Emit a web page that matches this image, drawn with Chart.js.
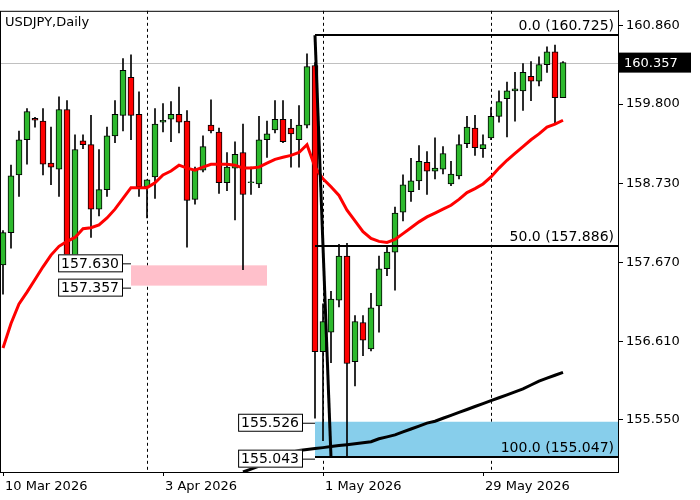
<!DOCTYPE html>
<html>
<head>
<meta charset="utf-8">
<script src="https://cdn.jsdelivr.net/npm/chart.js@4/dist/chart.umd.min.js"></script>
<style>
  body { margin: 0; background: #fff; }
  #wrap { width: 700px; height: 500px; }
</style>
</head>
<body>
<div id="wrap"><canvas id="c" width="700" height="500"></canvas></div>
<script>
// Candles, one per trading day (index 1..71)
const opens  = [157.637,158.070,158.846,159.319,159.608,159.569,159.004,158.925,159.726,157.755,159.306,159.253,158.386,158.649,159.372,159.648,160.160,159.661,158.688,158.819,159.556,159.595,159.661,159.569,158.517,158.911,159.516,159.424,158.741,158.938,159.148,158.741,158.725,159.319,159.450,159.595,159.477,159.319,159.516,160.318,156.467,156.730,157.163,157.755,156.335,156.861,156.506,157.084,157.584,157.807,158.346,158.622,158.767,159.017,158.898,158.925,158.725,158.833,159.266,159.477,159.201,159.345,159.634,159.871,159.976,159.976,160.173,160.108,160.331,160.502,159.884];
const highs  = [158.097,158.977,159.437,159.740,159.621,159.740,159.490,159.897,159.845,159.385,159.385,159.648,159.188,159.490,159.845,160.410,160.463,159.963,158.780,159.740,159.805,159.832,160.029,159.713,158.951,159.372,159.858,159.477,159.148,159.293,159.529,158.951,159.634,159.569,159.845,159.845,159.595,159.779,160.476,160.357,157.111,157.282,157.912,157.926,156.953,156.953,157.255,157.755,157.899,158.412,158.846,159.069,159.240,159.161,159.345,159.227,159.030,159.385,159.634,159.648,159.385,159.753,159.976,160.094,160.226,160.344,160.371,160.436,160.568,160.594,160.371];
const lows   = [157.242,157.860,158.557,158.990,159.490,158.846,158.714,158.557,157.702,157.702,159.201,158.004,158.294,158.557,159.280,159.437,159.319,158.557,158.268,158.530,159.424,159.293,159.411,157.873,158.452,158.885,159.411,158.596,158.636,158.241,157.571,158.583,158.675,159.083,159.411,159.280,158.951,158.951,159.477,155.573,155.271,156.322,157.071,155.047,156.007,156.414,156.480,156.730,157.492,157.295,158.228,158.491,158.649,158.583,158.793,158.859,158.701,158.793,159.214,159.109,159.083,159.319,159.556,159.358,159.569,159.713,159.845,160.042,160.226,159.529,159.884];
const closes = [158.070,158.833,159.319,159.700,159.582,158.990,158.951,159.726,157.755,159.188,159.253,158.386,158.649,159.372,159.661,160.252,159.648,158.688,158.780,159.529,159.582,159.661,159.556,158.504,158.911,159.227,159.437,158.741,158.951,159.122,158.583,158.750,159.319,159.398,159.595,159.293,159.398,159.516,160.305,156.467,156.874,157.177,157.755,156.309,156.874,156.624,157.058,157.584,157.807,158.333,158.714,158.767,159.030,158.898,158.938,159.135,158.859,159.253,159.490,159.214,159.253,159.634,159.832,159.976,160.003,160.226,160.108,160.331,160.502,159.884,160.357];

// Moving averages
const maFast = [156.519,156.848,157.111,157.269,157.439,157.610,157.768,157.886,157.952,158.005,158.123,158.136,158.175,158.268,158.386,158.530,158.675,158.675,158.675,158.741,158.846,158.898,158.977,158.938,158.911,158.951,158.990,158.990,158.990,158.977,158.938,158.938,158.951,159.004,159.056,159.083,159.109,159.148,159.253,158.951,158.793,158.688,158.570,158.373,158.228,158.083,157.991,157.952,157.939,157.978,158.057,158.136,158.215,158.281,158.333,158.386,158.438,158.517,158.609,158.662,158.725,158.819,158.938,159.043,159.135,159.227,159.319,159.398,159.490,159.529,159.582];
const maSlowStart = 31;
const maSlow = [154.850,154.889,154.929,154.981,155.021,155.073,155.113,155.139,155.152,155.165,155.178,155.192,155.205,155.218,155.231,155.244,155.257,155.297,155.323,155.349,155.389,155.428,155.468,155.507,155.533,155.573,155.612,155.652,155.691,155.731,155.770,155.810,155.849,155.888,155.928,155.967,156.020,156.072,156.112,156.151,156.191];

// Axis
const yTicks = [160.860, 159.800, 158.730, 157.670, 156.610, 155.550];
const dateLabels = ['10 Mar 2026', '3 Apr 2026', '1 May 2026', '29 May 2026'];
const dateIdx = [1, 21, 41, 61];
const sepIdx = [19, 41, 62];

// Drawn objects
const fibLevels = [0.0, 50.0, 100.0];
const fibPrices = [160.725, 157.886, 155.047];
const fibFrom = 40, fibTo = 42;
const pinkZone = [157.630, 157.357];
const pinkFrom = 17, pinkTo = 34;
const blueZone = [155.526, 155.043];
const lastPrice = 160.357;

const GREEN = '#2db92d', RED = '#ff0000';
const idx = closes.map((_, i) => i + 1);
const up = closes.map((c, i) => c >= opens[i]);

const overlay = {
    id: 'overlay',
    beforeDatasetsDraw(chart) {
        const { ctx, chartArea: a, scales: { x, y } } = chart;
        ctx.save();
        // separators
        ctx.strokeStyle = '#000'; ctx.lineWidth = 1; ctx.setLineDash([3, 3]);
        sepIdx.forEach(i => {
            const px = Math.round(x.getPixelForValue(i)) + 0.5;
            ctx.beginPath(); ctx.moveTo(px, a.top); ctx.lineTo(px, a.bottom); ctx.stroke();
        });
        ctx.setLineDash([]);
        // last price line
        ctx.strokeStyle = '#c0c0c0';
        const ly = Math.round(y.getPixelForValue(lastPrice)) + 0.5;
        ctx.beginPath(); ctx.moveTo(a.left, ly); ctx.lineTo(a.right, ly); ctx.stroke();
        // pink zone
        ctx.fillStyle = '#ffc0cb';
        const p1 = y.getPixelForValue(pinkZone[0]), p2 = y.getPixelForValue(pinkZone[1]);
        const px1 = x.getPixelForValue(pinkFrom), px2 = x.getPixelForValue(pinkTo);
        ctx.fillRect(px1, p1, px2 - px1, p2 - p1);
        // blue zone
        ctx.fillStyle = '#87ceeb';
        const b1 = y.getPixelForValue(blueZone[0]), b2 = y.getPixelForValue(blueZone[1]);
        const bx = x.getPixelForValue(fibFrom);
        ctx.fillRect(bx, b1, a.right - bx, b2 - b1);
        ctx.restore();
    },
    afterDatasetsDraw(chart) {
        const { ctx, chartArea: a, scales: { x, y } } = chart;
        ctx.save();
        ctx.font = '14px "DejaVu Sans"';
        ctx.fillStyle = '#000'; ctx.strokeStyle = '#000';
        // fibonacci
        const fx = x.getPixelForValue(fibFrom);
        ctx.lineWidth = 2;
        fibPrices.forEach((p, i) => {
            const py = Math.round(y.getPixelForValue(p));
            ctx.beginPath(); ctx.moveTo(fx, py); ctx.lineTo(a.right, py); ctx.stroke();
            ctx.textAlign = 'right'; ctx.textBaseline = 'bottom';
            ctx.fillText(fibLevels[i].toFixed(1) + ' (' + p.toFixed(3) + ')', a.right - 4, py - 2);
        });
        ctx.lineWidth = 3;
        ctx.beginPath();
        ctx.moveTo(fx, y.getPixelForValue(fibPrices[0]));
        ctx.lineTo(x.getPixelForValue(fibTo), y.getPixelForValue(fibPrices[2]));
        ctx.stroke();
        // price labels with boxes
        ctx.lineWidth = 1;
        const boxLabel = (val, rightX, py, lineTo) => {
            const txt = val.toFixed(3);
            const w = ctx.measureText(txt).width + 6;
            ctx.fillStyle = '#fff';
            ctx.fillRect(rightX - w, py - 9, w, 18);
            ctx.strokeRect(rightX - w + 0.5, py - 8.5, w, 17);
            ctx.fillStyle = '#000'; ctx.textAlign = 'right'; ctx.textBaseline = 'middle';
            ctx.fillText(txt, rightX - 3, py + 1);
            ctx.beginPath(); ctx.moveTo(rightX, py + 0.5); ctx.lineTo(lineTo, py + 0.5); ctx.stroke();
        };
        const pl = x.getPixelForValue(pinkFrom);
        boxLabel(pinkZone[0], pl - 9, y.getPixelForValue(pinkZone[0]) - 2, pl);
        boxLabel(pinkZone[1], pl - 9, y.getPixelForValue(pinkZone[1]) + 2, pl);
        boxLabel(blueZone[0], fx - 13, y.getPixelForValue(blueZone[0]) + 1, fx);
        boxLabel(blueZone[1], fx - 13, y.getPixelForValue(blueZone[1]) + 1, fx);
        // title
        ctx.textAlign = 'left'; ctx.textBaseline = 'top'; ctx.font = '13px "DejaVu Sans"';
        ctx.fillText('USDJPY,Daily', a.left + 5, a.top + 5);
        // date labels
        ctx.textBaseline = 'top';
        dateLabels.forEach((d, i) => {
            const px = x.getPixelForValue(dateIdx[i]);
            ctx.beginPath(); ctx.moveTo(px + 0.5, a.bottom); ctx.lineTo(px + 0.5, a.bottom + 4); ctx.stroke();
            ctx.fillText(d, px + 2, a.bottom + 8);
        });
        // last price box
        const ry = y.getPixelForValue(lastPrice);
        ctx.fillStyle = '#000';
        ctx.fillRect(a.right + 1, ry - 10, 72, 20);
        ctx.fillStyle = '#fff'; ctx.textBaseline = 'middle';
        ctx.fillText(lastPrice.toFixed(3), a.right + 6, ry + 1);
        // frame
        ctx.strokeStyle = '#000';
        ctx.strokeRect(a.left + 0.5, a.top + 0.5, a.right - a.left, a.bottom - a.top);
        ctx.restore();
    }
};

new Chart(document.getElementById('c'), {
    type: 'bar',
    data: {
        datasets: [
            {
                type: 'line', data: idx.map((i, k) => ({ x: i, y: maFast[k] })),
                borderColor: RED, borderWidth: 3, pointRadius: 0, order: 1
            },
            {
                type: 'line', data: maSlow.map((v, k) => ({ x: maSlowStart + k, y: v })),
                borderColor: '#000', borderWidth: 3, pointRadius: 0, order: 1
            },
            {
                data: idx.map((i, k) => ({ x: i, y: [lows[k], highs[k]] })),
                backgroundColor: '#000', barThickness: 1, grouped: false, order: 3
            },
            {
                data: idx.map((i, k) => ({ x: i, y: [opens[k], closes[k]] })),
                backgroundColor: up.map(u => u ? GREEN : RED),
                borderColor: '#000', borderWidth: 1, borderSkipped: false,
                barThickness: 6, grouped: false, order: 2, minBarLength: 1
            }
        ]
    },
    options: {
        responsive: false,
        animation: false,
        layout: { padding: { bottom: 28, top: 0, left: 0 } },
        plugins: { legend: { display: false }, tooltip: { enabled: false } },
        scales: {
            x: {
                type: 'linear', min: 0.625, max: 77.875, display: false, offset: false
            },
            y: {
                position: 'right', min: 154.85, max: 161.054,
                afterFit(s) { s.width = 82; },
                afterBuildTicks(s) { s.ticks = yTicks.map(v => ({ value: v })); },
                grid: { drawOnChartArea: false, color: '#000', tickLength: 5 },
                border: { color: '#000' },
                ticks: {
                    color: '#000', font: { family: 'DejaVu Sans', size: 13 }, padding: 3,
                    callback: v => v.toFixed(3)
                }
            }
        }
    },
    plugins: [overlay]
});
</script>
</body>
</html>
